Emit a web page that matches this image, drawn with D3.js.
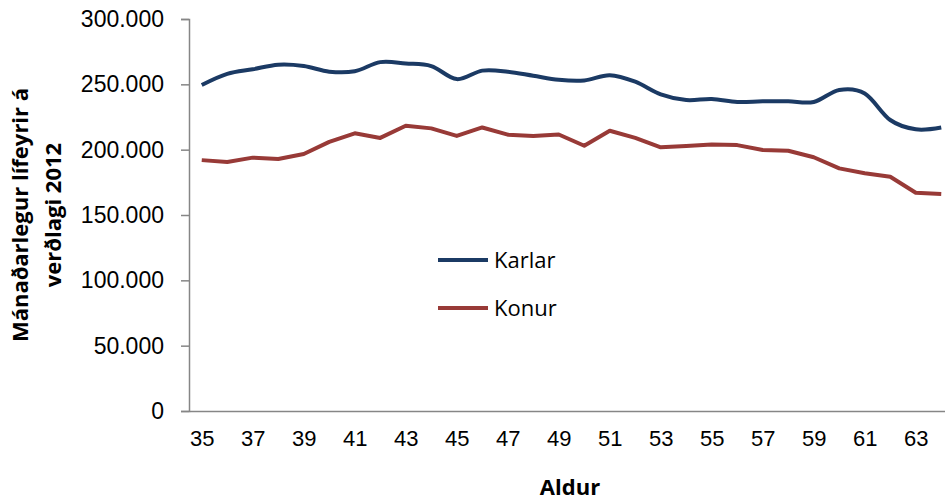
<!DOCTYPE html>
<html>
<head>
<meta charset="utf-8">
<script src="https://cdn.jsdelivr.net/npm/d3@7"></script>
<style>
  body { margin: 0; background: #fff; }
  svg { display: block; font-family: "Open Sans", "Noto Sans", sans-serif; }
</style>
</head>
<body>
<div id="chart"></div>
<script>
const ages = d3.range(35, 65);
const karlar = [249500, 258000, 261500, 265000, 264000, 259700, 260000, 267000, 266000, 264000,
  254000, 260500, 259700, 256600, 253500, 253000, 257000, 252000, 242400, 238000,
  238800, 236500, 237000, 237000, 236500, 245700, 243000, 222700, 215600, 217000];
const konur = [192000, 190600, 193900, 192900, 196700, 206000, 212500, 209000, 218300, 216300,
  210500, 217000, 211500, 210500, 211600, 203000, 214500, 209000, 201800, 202800,
  204000, 203500, 199700, 199200, 194200, 185700, 181900, 179300, 167000, 166000];
const yTicks = [0, 50000, 100000, 150000, 200000, 250000, 300000];
const xTickLabels = ages.filter(a => (a - 35) % 2 === 0);
const series = [
  { name: 'Karlar', values: karlar, color: '#1b3a64', smooth: true },
  { name: 'Konur', values: konur, color: '#983a37', smooth: false }
];

const width = 945, height = 500;
const margin = { top: 19, right: -9, bottom: 89, left: 189 };
const innerW = width - margin.left - margin.right;
const innerH = height - margin.top - margin.bottom;

const svg = d3.select('#chart').append('svg')
  .attr('width', width)
  .attr('height', height);

const g = svg.append('g')
  .attr('transform', `translate(${margin.left},${margin.top})`);

const x = d3.scalePoint()
  .domain(ages)
  .range([0, innerW])
  .padding(0.5);

const y = d3.scaleLinear()
  .domain([0, 300000])
  .range([innerH, 0]);

const fmt = d => d === 0 ? '0' : d3.format(',')(d).replace(/,/g, '.');

// Y axis
const yAxis = g.append('g')
  .call(d3.axisLeft(y).tickValues(yTicks).tickSize(8).tickPadding(17).tickFormat(fmt));
yAxis.select('.domain').attr('stroke', '#868686').attr('stroke-width', 1.5);
yAxis.selectAll('.tick line').attr('stroke', '#868686').attr('stroke-width', 1.5);
yAxis.selectAll('.tick text').attr('font-size', 23).attr('fill', '#000');

// X axis
const xAxis = g.append('g')
  .attr('transform', `translate(0,${innerH})`)
  .call(d3.axisBottom(x).tickValues(xTickLabels).tickSize(0).tickPadding(19));
xAxis.select('.domain').attr('stroke', '#868686').attr('stroke-width', 1.5);
xAxis.selectAll('.tick text').attr('font-size', 22).attr('fill', '#000');

// Lines
series.forEach(s => {
  const line = d3.line()
    .x((d, i) => x(ages[i]))
    .y(d => y(d))
    .curve(s.smooth ? d3.curveCardinal.tension(0) : d3.curveLinear);
  g.append('path')
    .datum(s.values)
    .attr('fill', 'none')
    .attr('stroke', s.color)
    .attr('stroke-width', 4)
    .attr('stroke-linejoin', 'round')
    .attr('d', line);
});

// Legend
const legend = svg.append('g').attr('transform', 'translate(438,260)');
series.forEach((s, i) => {
  const row = legend.append('g').attr('transform', `translate(0,${i * 48})`);
  row.append('line')
    .attr('x1', 0).attr('x2', 50)
    .attr('stroke', s.color).attr('stroke-width', 4);
  row.append('text')
    .attr('x', 56).attr('dy', '0.35em')
    .attr('font-size', 22)
    .text(s.name);
});

// Axis titles
svg.append('text')
  .attr('x', margin.left + 381)
  .attr('y', 495)
  .attr('text-anchor', 'middle')
  .attr('font-size', 22)
  .attr('font-weight', 'bold')
  .text('Aldur');

const yTitle = svg.append('text')
  .attr('transform', 'translate(0,215) rotate(-90)')
  .attr('text-anchor', 'middle')
  .attr('font-size', 22)
  .attr('font-weight', 'bold');
yTitle.append('tspan').attr('x', 0).attr('y', 28).text('Mánaðarlegur lífeyrir á');
yTitle.append('tspan').attr('x', 0).attr('y', 61).text('verðlagi 2012');
</script>
</body>
</html>
